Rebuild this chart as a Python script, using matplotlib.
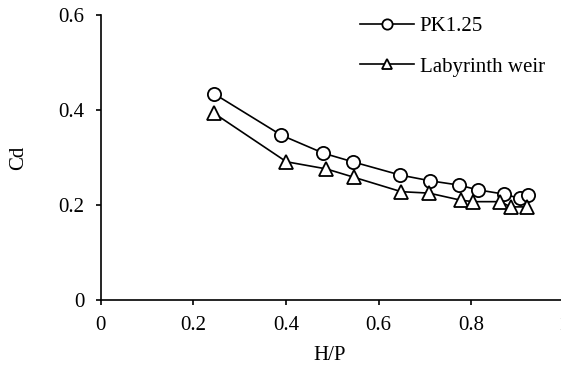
import matplotlib
matplotlib.use("Agg")
import matplotlib.pyplot as plt

plt.rcParams['font.family'] = ['Liberation Serif', 'DejaVu Serif']
plt.rcParams['font.size'] = 15

# discharge coefficient vs head ratio
hp_pk = [0.245, 0.390, 0.481, 0.544, 0.647, 0.711, 0.773, 0.814, 0.870, 0.905, 0.922]
cd_pk = [0.434, 0.347, 0.309, 0.291, 0.263, 0.251, 0.242, 0.232, 0.223, 0.214, 0.221]

hp_lab = [0.245, 0.401, 0.487, 0.548, 0.649, 0.709, 0.778, 0.805, 0.863, 0.885, 0.920]
cd_lab = [0.393, 0.291, 0.276, 0.258, 0.228, 0.225, 0.210, 0.207, 0.207, 0.196, 0.196]

xticks = [0, 0.2, 0.4, 0.6, 0.8, 1]
xtick_labels = ['0', '0.2', '0.4', '0.6', '0.8', '1']
yticks = [0, 0.2, 0.4, 0.6]
ytick_labels = ['0', '0.2', '0.4', '0.6']

fig = plt.figure(figsize=(5.61, 3.71), dpi=100)
ax = fig.add_axes([0.1795, 0.1914, 0.8255, 0.7682])

ax.plot(hp_pk, cd_pk, color='black', lw=1.2, marker='o', ms=9.5,
        mfc='white', mec='black', mew=1.3, label='PK1.25')
ax.plot(hp_lab, cd_lab, color='black', lw=1.2, marker='^', ms=9.5,
        mfc='white', mec='black', mew=1.3, label='Labyrinth weir')

ax.set_xlim(0, 1)
ax.set_ylim(0, 0.6)
ax.set_xticks(xticks)
ax.set_xticklabels(xtick_labels)
ax.set_yticks(yticks)
ax.set_yticklabels(ytick_labels)
ax.tick_params(direction='out', length=3.6, width=1.2)
ax.tick_params(axis='y', pad=8)
ax.tick_params(axis='x', pad=8)

for side in ['top', 'right']:
    ax.spines[side].set_visible(False)
for side in ['left', 'bottom']:
    ax.spines[side].set_linewidth(1.2)

ax.set_xlabel('H/P')
ax.xaxis.set_label_coords(0.495, -0.16)
ax.set_ylabel('Cd')
ax.yaxis.set_label_coords(-0.157, 0.5)

leg = ax.legend(loc='upper left', bbox_to_anchor=(0.52, 1.06), frameon=False,
                handlelength=2.6, labelspacing=1.0, handletextpad=0.25,
                markerscale=0.78)

fig.savefig('out.png', dpi=100)
